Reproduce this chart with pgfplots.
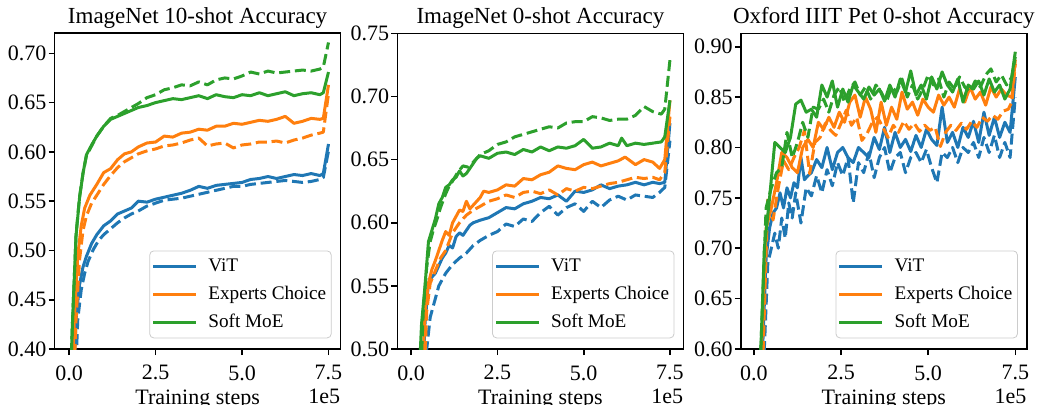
\documentclass[border=0pt]{standalone}
\usepackage{fontspec}
\setmainfont{Liberation Serif}
\usepackage{pgfplots}
\pgfplotsset{compat=1.18}
\definecolor{c0}{HTML}{1F77B4}
\definecolor{c1}{HTML}{FF7F0E}
\definecolor{c2}{HTML}{2CA02C}
\pgfplotsset{
  myaxis/.style={
    scale only axis, width=143pt, height=157.85pt,
    anchor=south west,
    xtick={0,2.5,5,7.5},
    /pgf/number format/assume math mode=true,
    scaled x ticks=false, scaled y ticks=false,
    tick align=outside, tick pos=left,
    major tick length=3pt,
    every tick/.style={black, line width=0.8pt},
    axis line style={line width=0.8pt},
    tick label style={font=\fontsize{11}{13}\selectfont},
    xticklabel style={anchor=north, inner sep=0pt, yshift=-5pt, /pgf/number format/fixed, /pgf/number format/fixed zerofill, /pgf/number format/precision=1},
    yticklabel style={anchor=east, inner sep=0pt, xshift=-0.9pt, /pgf/number format/fixed, /pgf/number format/fixed zerofill, /pgf/number format/precision=2},
    xlabel={Training steps},
    xlabel style={at={(axis description cs:0.5,0)}, anchor=base, yshift=-27.75pt, inner sep=0pt, font=\fontsize{11}{13}\selectfont},
    every axis title shift=0pt,
    title style={at={(axis description cs:0.5,1)}, anchor=base, yshift=5pt, inner sep=0pt, font=\fontsize{11.5}{13}\selectfont},
    legend style={at={(axis description cs:1,0)}, anchor=south east, xshift=-4.5pt, yshift=5.35pt,
      draw=black!20, rounded corners=2pt, fill=white, fill opacity=0.8, text opacity=1,
      font=\fontsize{9.6}{11}\selectfont, inner xsep=1pt, inner ysep=1.75pt, row sep=2pt, column sep=3.8pt,
      nodes={inner sep=1.5pt, text height=7pt, text depth=2pt}},
    legend cell align=left,
    legend image code/.code={\draw[#1, line width=1.5pt] (0pt,0pt) -- (21.5pt,0pt);},
    every axis plot/.append style={line width=1.5pt, line join=round},
  },
  dsh/.style={dash pattern=on 5.5pt off 2.4pt, forget plot},
}
\begin{document}
\begin{tikzpicture}
\useasboundingbox (0,0) rectangle (519pt,202pt);
% ---------------- Panel 1 ----------------
\begin{axis}[myaxis, name=ax1, at={(27.3pt,27.5pt)},
  xmin=-0.42, xmax=7.85, ymin=0.40, ymax=0.7203,
  ytick={0.40,0.45,0.50,0.55,0.60,0.65,0.70},
  title={ImageNet 10-shot Accuracy}]
\addplot[c0] coordinates {(0.1,0.34) (0.2,0.43) (0.3,0.465) (0.4,0.483) (0.5,0.494) (0.65,0.507) (0.8,0.516) (1.0,0.525) (1.2,0.530) (1.4,0.537) (1.6,0.540) (1.8,0.543) (2.0,0.550) (2.25,0.549) (2.5,0.552) (2.75,0.554) (3.0,0.556) (3.25,0.558) (3.5,0.561) (3.75,0.565) (4.0,0.563) (4.25,0.566) (4.5,0.567) (4.75,0.568) (5.0,0.569) (5.25,0.572) (5.5,0.573) (5.75,0.575) (6.0,0.573) (6.25,0.575) (6.5,0.577) (6.75,0.576) (7.0,0.578) (7.25,0.576) (7.35,0.578) (7.5,0.608)};
\addplot[c0, dsh] coordinates {(0.15,0.34) (0.25,0.43) (0.35,0.46) (0.45,0.477) (0.55,0.489) (0.7,0.501) (0.85,0.510) (1.0,0.516) (1.2,0.522) (1.4,0.528) (1.6,0.533) (1.8,0.537) (2.0,0.540) (2.25,0.545) (2.5,0.548) (2.75,0.551) (3.0,0.552) (3.25,0.553) (3.5,0.555) (3.75,0.557) (4.0,0.559) (4.25,0.561) (4.5,0.563) (4.75,0.565) (5.0,0.565) (5.25,0.567) (5.5,0.568) (5.75,0.569) (6.0,0.570) (6.25,0.571) (6.5,0.570) (6.75,0.569) (7.0,0.570) (7.25,0.572) (7.35,0.574) (7.5,0.601)};
\addplot[c1] coordinates {(0.05,0.33) (0.15,0.43) (0.25,0.495) (0.35,0.525) (0.45,0.543) (0.6,0.556) (0.8,0.567) (1.0,0.579) (1.2,0.583) (1.4,0.592) (1.6,0.598) (1.8,0.600) (2.0,0.605) (2.25,0.609) (2.5,0.610) (2.75,0.616) (3.0,0.615) (3.25,0.619) (3.5,0.620) (3.75,0.623) (4.0,0.622) (4.25,0.626) (4.5,0.626) (4.75,0.629) (5.0,0.628) (5.25,0.630) (5.5,0.632) (5.75,0.631) (6.0,0.633) (6.25,0.636) (6.5,0.629) (6.75,0.631) (7.0,0.634) (7.25,0.633) (7.35,0.634) (7.5,0.668)};
\addplot[c1, dsh] coordinates {(0.1,0.33) (0.2,0.43) (0.3,0.49) (0.4,0.52) (0.5,0.535) (0.65,0.548) (0.8,0.556) (1.0,0.567) (1.2,0.576) (1.4,0.584) (1.6,0.590) (1.8,0.594) (2.0,0.598) (2.25,0.601) (2.5,0.603) (2.75,0.606) (3.0,0.607) (3.25,0.609) (3.5,0.612) (3.75,0.614) (4.0,0.606) (4.25,0.608) (4.5,0.609) (4.75,0.604) (5.0,0.607) (5.25,0.608) (5.5,0.610) (5.75,0.610) (6.0,0.611) (6.25,0.609) (6.5,0.612) (6.75,0.614) (7.0,0.617) (7.25,0.619) (7.35,0.620) (7.5,0.659)};
\addplot[c2] coordinates {(0.0,0.33) (0.1,0.43) (0.2,0.515) (0.3,0.553) (0.4,0.578) (0.5,0.597) (0.65,0.607) (0.8,0.616) (1.0,0.626) (1.2,0.633) (1.4,0.636) (1.6,0.639) (1.8,0.642) (2.0,0.645) (2.25,0.647) (2.5,0.650) (2.75,0.652) (3.0,0.654) (3.25,0.653) (3.5,0.655) (3.75,0.657) (4.0,0.654) (4.25,0.658) (4.5,0.656) (4.75,0.655) (5.0,0.658) (5.25,0.657) (5.5,0.660) (5.75,0.657) (6.0,0.659) (6.25,0.661) (6.5,0.657) (6.75,0.659) (7.0,0.660) (7.25,0.658) (7.35,0.660) (7.5,0.681)};
\addplot[c2, dsh] coordinates {(0.0,0.33) (0.1,0.43) (0.2,0.516) (0.3,0.554) (0.4,0.578) (0.5,0.596) (0.65,0.606) (0.8,0.616) (1.0,0.626) (1.2,0.634) (1.4,0.637) (1.6,0.641) (1.8,0.645) (2.0,0.649) (2.25,0.655) (2.5,0.658) (2.75,0.663) (3.0,0.665) (3.25,0.668) (3.5,0.667) (3.75,0.671) (4.0,0.668) (4.25,0.673) (4.5,0.675) (4.75,0.674) (5.0,0.677) (5.25,0.681) (5.5,0.679) (5.75,0.682) (6.0,0.680) (6.25,0.681) (6.5,0.682) (6.75,0.683) (7.0,0.682) (7.25,0.684) (7.35,0.686) (7.5,0.711)};
\legend{ViT, Experts Choice, Soft MoE}
\end{axis}
\node[anchor=base east, inner sep=0pt, font=\fontsize{11}{13}\selectfont] at ([yshift=-27pt]ax1.south east) {1e5};
% ---------------- Panel 2 ----------------
\begin{axis}[myaxis, name=ax2, at={(198.7pt,27.5pt)},
  xmin=-0.40, xmax=7.89, ymin=0.50, ymax=0.75,
  ytick={0.50,0.55,0.60,0.65,0.70,0.75},
  title={ImageNet 0-shot Accuracy}]
\addplot[c0] coordinates {(0.3,0.46) (0.4,0.52) (0.5,0.552) (0.6,0.557) (0.7,0.560) (0.8,0.566) (0.9,0.572) (1.0,0.576) (1.1,0.582) (1.2,0.580) (1.3,0.589) (1.4,0.592) (1.5,0.590) (1.6,0.594) (1.7,0.598) (1.8,0.600) (2.0,0.602) (2.25,0.604) (2.5,0.608) (2.75,0.612) (3.0,0.611) (3.25,0.615) (3.5,0.617) (3.75,0.620) (4.0,0.619) (4.25,0.622) (4.5,0.617) (4.75,0.625) (5.0,0.624) (5.25,0.626) (5.5,0.630) (5.75,0.627) (6.0,0.629) (6.25,0.630) (6.5,0.632) (6.75,0.630) (7.0,0.632) (7.2,0.631) (7.35,0.632) (7.5,0.679)};
\addplot[c0, dsh] coordinates {(0.35,0.46) (0.45,0.50) (0.55,0.525) (0.65,0.535) (0.8,0.550) (1.0,0.560) (1.2,0.567) (1.4,0.572) (1.6,0.576) (1.8,0.582) (2.0,0.586) (2.25,0.590) (2.5,0.593) (2.75,0.599) (3.0,0.597) (3.25,0.603) (3.5,0.601) (3.75,0.608) (4.0,0.613) (4.25,0.606) (4.5,0.612) (4.75,0.615) (5.0,0.609) (5.25,0.617) (5.5,0.612) (5.75,0.618) (6.0,0.621) (6.25,0.618) (6.5,0.622) (6.75,0.621) (7.0,0.620) (7.2,0.624) (7.35,0.628) (7.5,0.665)};
\addplot[c1] coordinates {(0.3,0.46) (0.4,0.53) (0.5,0.552) (0.6,0.563) (0.7,0.570) (0.8,0.578) (0.9,0.586) (1.0,0.593) (1.1,0.590) (1.2,0.600) (1.3,0.605) (1.4,0.610) (1.5,0.609) (1.6,0.617) (1.7,0.611) (1.8,0.614) (2.0,0.620) (2.1,0.625) (2.25,0.624) (2.5,0.626) (2.75,0.630) (3.0,0.629) (3.25,0.635) (3.5,0.634) (3.75,0.638) (4.0,0.640) (4.25,0.645) (4.5,0.643) (4.75,0.642) (5.0,0.646) (5.25,0.648) (5.5,0.645) (5.75,0.647) (6.0,0.649) (6.2,0.652) (6.5,0.646) (6.75,0.650) (7.0,0.648) (7.2,0.643) (7.35,0.650) (7.5,0.697)};
\addplot[c1, dsh] coordinates {(0.35,0.46) (0.45,0.53) (0.55,0.552) (0.7,0.562) (0.85,0.572) (1.0,0.578) (1.2,0.592) (1.4,0.600) (1.6,0.606) (1.8,0.610) (2.0,0.613) (2.25,0.617) (2.5,0.619) (2.75,0.622) (3.0,0.620) (3.25,0.624) (3.5,0.625) (3.75,0.623) (4.0,0.626) (4.25,0.622) (4.5,0.627) (4.75,0.625) (5.0,0.628) (5.25,0.627) (5.5,0.629) (5.75,0.631) (6.0,0.632) (6.25,0.634) (6.5,0.636) (6.75,0.635) (7.0,0.636) (7.2,0.634) (7.35,0.640) (7.5,0.684)};
\addplot[c2] coordinates {(0.2,0.46) (0.3,0.52) (0.4,0.55) (0.5,0.585) (0.6,0.594) (0.7,0.603) (0.8,0.615) (0.9,0.620) (1.0,0.628) (1.1,0.630) (1.2,0.634) (1.3,0.636) (1.4,0.641) (1.5,0.637) (1.6,0.639) (1.7,0.643) (1.8,0.647) (1.9,0.651) (2.0,0.653) (2.25,0.651) (2.5,0.655) (2.75,0.656) (3.0,0.654) (3.25,0.658) (3.5,0.656) (3.75,0.660) (4.0,0.657) (4.25,0.660) (4.5,0.659) (4.75,0.661) (5.0,0.666) (5.25,0.659) (5.5,0.660) (5.75,0.663) (6.0,0.661) (6.1,0.667) (6.25,0.661) (6.5,0.663) (6.75,0.662) (7.0,0.663) (7.25,0.664) (7.35,0.668) (7.5,0.697)};
\addplot[c2, dsh] coordinates {(0.25,0.46) (0.35,0.53) (0.45,0.565) (0.55,0.585) (0.65,0.595) (0.75,0.603) (0.85,0.612) (1.0,0.623) (1.1,0.629) (1.2,0.633) (1.35,0.640) (1.5,0.645) (1.65,0.644) (1.8,0.648) (2.0,0.654) (2.25,0.657) (2.5,0.662) (2.75,0.664) (3.0,0.668) (3.25,0.670) (3.5,0.672) (3.75,0.674) (4.0,0.676) (4.25,0.675) (4.5,0.679) (4.75,0.680) (5.0,0.680) (5.25,0.684) (5.5,0.683) (5.75,0.681) (6.0,0.682) (6.25,0.682) (6.5,0.685) (6.75,0.692) (7.0,0.688) (7.25,0.686) (7.35,0.690) (7.5,0.729)};
\legend{ViT, Experts Choice, Soft MoE}
\end{axis}
\node[anchor=base east, inner sep=0pt, font=\fontsize{11}{13}\selectfont] at ([yshift=-27pt]ax2.south east) {1e5};
% ---------------- Panel 3 ----------------
\begin{axis}[myaxis, name=ax3, at={(370.4pt,27.5pt)},
  xmin=-0.375, xmax=7.83, ymin=0.60, ymax=0.9133,
  ytick={0.60,0.65,0.70,0.75,0.80,0.85,0.90},
  title={Oxford IIIT Pet 0-shot Accuracy}]
\addplot[c0] coordinates {(0.2,0.55) (0.25,0.60) (0.35,0.69) (0.45,0.72) (0.55,0.735) (0.65,0.74) (0.75,0.755) (0.85,0.74) (0.95,0.76) (1.05,0.75) (1.15,0.765) (1.25,0.76) (1.35,0.79) (1.45,0.768) (1.55,0.772) (1.65,0.775) (1.8,0.788) (1.95,0.78) (2.1,0.80) (2.25,0.778) (2.4,0.795) (2.55,0.80) (2.7,0.79) (2.85,0.785) (3.0,0.80) (3.15,0.795) (3.3,0.79) (3.45,0.81) (3.6,0.798) (3.75,0.82) (3.9,0.795) (4.05,0.815) (4.2,0.80) (4.35,0.808) (4.5,0.796) (4.65,0.812) (4.8,0.80) (4.95,0.818) (5.1,0.808) (5.25,0.802) (5.4,0.84) (5.55,0.805) (5.7,0.815) (5.85,0.80) (6.0,0.82) (6.15,0.81) (6.3,0.826) (6.45,0.805) (6.6,0.835) (6.75,0.812) (6.9,0.83) (7.05,0.81) (7.2,0.825) (7.35,0.815) (7.5,0.87)};
\addplot[c0, dsh] coordinates {(0.25,0.55) (0.3,0.60) (0.4,0.685) (0.5,0.70) (0.6,0.715) (0.7,0.70) (0.8,0.73) (0.9,0.71) (1.0,0.745) (1.1,0.73) (1.2,0.755) (1.35,0.725) (1.5,0.76) (1.65,0.752) (1.8,0.772) (1.95,0.755) (2.1,0.778) (2.25,0.762) (2.4,0.785) (2.55,0.772) (2.7,0.79) (2.85,0.745) (3.0,0.785) (3.15,0.775) (3.3,0.795) (3.45,0.77) (3.6,0.79) (3.75,0.80) (3.9,0.775) (4.05,0.79) (4.2,0.795) (4.35,0.775) (4.5,0.79) (4.65,0.795) (4.8,0.785) (4.95,0.798) (5.1,0.78) (5.25,0.765) (5.4,0.795) (5.55,0.79) (5.7,0.80) (5.85,0.785) (6.0,0.80) (6.15,0.795) (6.3,0.805) (6.45,0.79) (6.6,0.81) (6.75,0.795) (6.9,0.812) (7.05,0.79) (7.2,0.805) (7.35,0.79) (7.5,0.85)};
\addplot[c1] coordinates {(0.15,0.55) (0.2,0.58) (0.35,0.72) (0.5,0.74) (0.65,0.765) (0.8,0.795) (0.95,0.79) (1.1,0.78) (1.25,0.775) (1.4,0.80) (1.55,0.808) (1.7,0.80) (1.85,0.825) (2.0,0.818) (2.15,0.83) (2.3,0.82) (2.45,0.835) (2.6,0.825) (2.75,0.845) (2.9,0.852) (3.05,0.83) (3.2,0.85) (3.35,0.838) (3.5,0.815) (3.65,0.845) (3.8,0.822) (3.95,0.84) (4.1,0.828) (4.25,0.855) (4.4,0.838) (4.55,0.845) (4.7,0.832) (4.85,0.848) (5.0,0.84) (5.15,0.835) (5.3,0.852) (5.45,0.842) (5.6,0.85) (5.75,0.84) (5.9,0.858) (6.05,0.845) (6.2,0.86) (6.35,0.848) (6.5,0.855) (6.65,0.842) (6.8,0.86) (6.95,0.85) (7.1,0.858) (7.25,0.852) (7.4,0.85) (7.5,0.887)};
\addplot[c1, dsh] coordinates {(0.2,0.55) (0.25,0.58) (0.4,0.75) (0.55,0.728) (0.7,0.76) (0.85,0.787) (1.0,0.778) (1.15,0.79) (1.3,0.80) (1.45,0.817) (1.6,0.774) (1.75,0.805) (1.9,0.81) (2.05,0.824) (2.2,0.817) (2.35,0.812) (2.5,0.824) (2.65,0.837) (2.8,0.822) (2.95,0.83) (3.1,0.807) (3.25,0.814) (3.4,0.825) (3.55,0.83) (3.7,0.82) (3.85,0.81) (4.0,0.822) (4.15,0.815) (4.3,0.826) (4.45,0.818) (4.6,0.824) (4.75,0.816) (4.9,0.822) (5.05,0.817) (5.2,0.82) (5.35,0.801) (5.5,0.815) (5.65,0.822) (5.8,0.817) (5.95,0.824) (6.1,0.818) (6.25,0.826) (6.4,0.82) (6.55,0.83) (6.7,0.826) (6.85,0.832) (7.0,0.828) (7.15,0.836) (7.3,0.838) (7.4,0.845) (7.5,0.883)};
\addplot[c2] coordinates {(0.15,0.55) (0.3,0.70) (0.45,0.75) (0.6,0.805) (0.75,0.80) (0.9,0.795) (1.05,0.81) (1.2,0.843) (1.35,0.847) (1.5,0.835) (1.65,0.838) (1.8,0.83) (1.95,0.862) (2.1,0.85) (2.25,0.866) (2.4,0.84) (2.55,0.858) (2.7,0.845) (2.85,0.862) (3.0,0.855) (3.15,0.848) (3.3,0.86) (3.45,0.852) (3.6,0.858) (3.75,0.846) (3.9,0.862) (4.05,0.850) (4.2,0.868) (4.35,0.855) (4.5,0.876) (4.65,0.852) (4.8,0.862) (4.95,0.848) (5.1,0.87) (5.25,0.858) (5.4,0.875) (5.55,0.862) (5.7,0.855) (5.85,0.868) (6.0,0.845) (6.15,0.862) (6.3,0.858) (6.45,0.866) (6.6,0.852) (6.75,0.868) (6.9,0.855) (7.05,0.862) (7.2,0.848) (7.35,0.858) (7.5,0.895)};
\addplot[c2, dsh] coordinates {(0.15,0.55) (0.2,0.60) (0.35,0.74) (0.5,0.76) (0.65,0.775) (0.8,0.78) (0.95,0.815) (1.1,0.79) (1.25,0.805) (1.4,0.825) (1.55,0.81) (1.7,0.84) (1.85,0.838) (2.0,0.848) (2.15,0.835) (2.3,0.852) (2.45,0.86) (2.6,0.845) (2.75,0.858) (2.9,0.865) (3.05,0.852) (3.2,0.86) (3.35,0.848) (3.5,0.862) (3.65,0.855) (3.8,0.845) (3.95,0.86) (4.1,0.855) (4.25,0.868) (4.4,0.85) (4.55,0.862) (4.7,0.848) (4.85,0.858) (5.0,0.872) (5.15,0.862) (5.3,0.868) (5.45,0.85) (5.6,0.865) (5.75,0.858) (5.9,0.870) (6.05,0.86) (6.2,0.855) (6.35,0.866) (6.5,0.86) (6.65,0.872) (6.8,0.878) (6.95,0.865) (7.1,0.872) (7.25,0.862) (7.4,0.87) (7.5,0.89)};
\legend{ViT, Experts Choice, Soft MoE}
\end{axis}
\node[anchor=base east, inner sep=0pt, font=\fontsize{11}{13}\selectfont] at ([yshift=-27pt]ax3.south east) {1e5};
\end{tikzpicture}
\end{document}
